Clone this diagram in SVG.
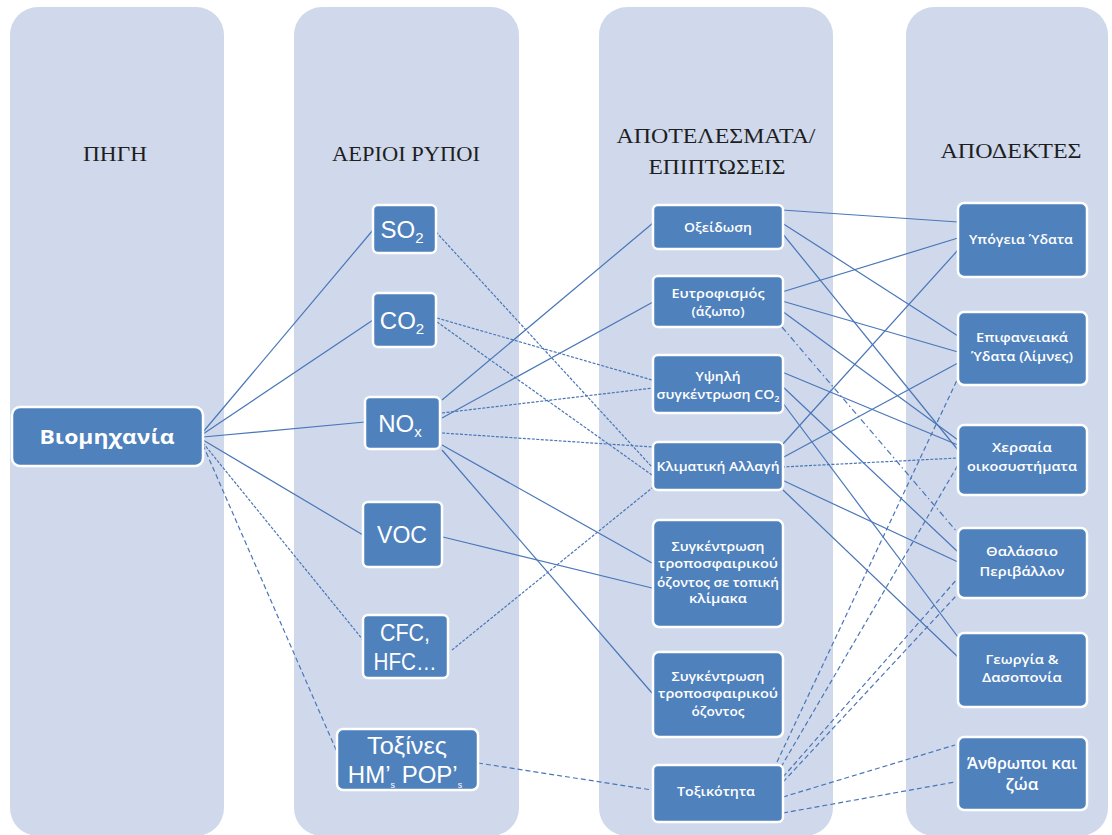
<svg xmlns="http://www.w3.org/2000/svg" width="1112" height="835" viewBox="0 0 1112 835">
<style>
.col{fill:#cfd9eb}
.node{fill:#4f81bd;stroke:#ffffff;stroke-width:2.5}
.hdr{font-family:"Liberation Serif","Times New Roman",serif;font-size:22px;fill:#1e1e1e;text-anchor:middle}
.t{font-family:"Open Sans","Noto Sans",sans-serif;fill:#ffffff;text-anchor:middle;font-weight:600;font-size:12.5px}
.big{font-family:"Liberation Sans",Arial,sans-serif;font-size:24px;font-weight:400}
.c{stroke:#4a76b8;stroke-width:1.2;fill:none}
.d1{stroke-dasharray:3 1.5}
.d2{stroke-dasharray:5 3}
.dd{stroke-dasharray:6 3 1.5 3}
</style>
<rect width="1112" height="835" fill="#ffffff"/>
<g id="columns">
<rect class="col" x="10" y="7" width="214" height="829" rx="28"/>
<rect class="col" x="294" y="7" width="225" height="829" rx="28"/>
<rect class="col" x="599" y="7" width="234" height="829" rx="28"/>
<rect class="col" x="906" y="7" width="202" height="829" rx="28"/>
</g>
<g id="headers">
<text class="hdr" x="115" y="161" textLength="64" lengthAdjust="spacingAndGlyphs">ΠΗΓΗ</text>
<text class="hdr" x="406" y="161" textLength="148" lengthAdjust="spacingAndGlyphs">ΑΕΡΙΟΙ ΡΥΠΟΙ</text>
<text class="hdr" x="716" y="143" textLength="199" lengthAdjust="spacingAndGlyphs">ΑΠΟΤΕΛΕΣΜΑΤΑ/</text>
<text class="hdr" x="717" y="174" textLength="137" lengthAdjust="spacingAndGlyphs">ΕΠΙΠΤΩΣΕΙΣ</text>
<text class="hdr" x="1011" y="158" textLength="141" lengthAdjust="spacingAndGlyphs">ΑΠΟΔΕΚΤΕΣ</text>
</g>
<g id="connectors">
<line class="c" x1="203" y1="432" x2="373" y2="230"/>
<line class="c" x1="203" y1="434" x2="373" y2="320"/>
<line class="c" x1="203" y1="437" x2="365" y2="422"/>
<line class="c" x1="203" y1="440" x2="363" y2="535"/>
<line class="c d1" x1="203" y1="443" x2="363" y2="640"/>
<line class="c d2" x1="203" y1="445" x2="337" y2="752"/>
<line class="c d1" x1="436" y1="232" x2="652" y2="467"/>
<line class="c d1" x1="437" y1="318" x2="652" y2="380"/>
<line class="c d1" x1="437" y1="322" x2="652" y2="475"/>
<line class="c" x1="442" y1="400" x2="653" y2="223"/>
<line class="c d1" x1="442" y1="413" x2="653" y2="388"/>
<line class="c" x1="442" y1="418" x2="653" y2="302"/>
<line class="c d1" x1="442" y1="433" x2="652" y2="447"/>
<line class="c" x1="442" y1="445" x2="652" y2="563"/>
<line class="c" x1="442" y1="450" x2="652" y2="693"/>
<line class="c" x1="443" y1="537" x2="652" y2="588"/>
<line class="c d1" x1="452" y1="650" x2="652" y2="488"/>
<line class="c d2" x1="478" y1="763" x2="652" y2="790"/>
<line class="c" x1="782" y1="210" x2="958" y2="222"/>
<line class="c" x1="782" y1="223" x2="958" y2="336"/>
<line class="c" x1="782" y1="233" x2="958" y2="450"/>
<line class="c" x1="782" y1="292" x2="958" y2="238"/>
<line class="c" x1="782" y1="301" x2="958" y2="352"/>
<line class="c" x1="782" y1="311" x2="958" y2="440"/>
<line class="c dd" x1="782" y1="327" x2="958" y2="533"/>
<line class="c" x1="782" y1="372" x2="958" y2="445"/>
<line class="c" x1="782" y1="386" x2="958" y2="552"/>
<line class="c" x1="782" y1="402" x2="958" y2="637"/>
<line class="c" x1="782" y1="445" x2="958" y2="250"/>
<line class="c" x1="782" y1="458" x2="958" y2="363"/>
<line class="c d1" x1="782" y1="467" x2="958" y2="458"/>
<line class="c" x1="782" y1="480" x2="958" y2="562"/>
<line class="c" x1="783" y1="490" x2="958" y2="657"/>
<line class="c d2" x1="777" y1="762" x2="958" y2="378"/>
<line class="c d2" x1="781" y1="767" x2="958" y2="465"/>
<line class="c d2" x1="783" y1="777" x2="958" y2="578"/>
<line class="c d2" x1="783" y1="782" x2="956" y2="596"/>
<line class="c d2" x1="783" y1="797" x2="955" y2="745"/>
<line class="c d2" x1="783" y1="813" x2="955" y2="782"/>
</g>
<g id="n-viomichania"><rect class="node" x="12" y="407" width="191" height="59" rx="8"/><text class="t" x="107" y="444" style="font-size:19px;font-weight:700" textLength="135" lengthAdjust="spacingAndGlyphs">Βιομηχανία</text></g>
<g id="n-so2"><rect class="node" x="373" y="205" width="63" height="48" rx="5"/><text class="t big" x="402" y="238">SO<tspan dy="5" font-size="15">2</tspan></text></g>
<g id="n-co2"><rect class="node" x="373" y="293" width="63" height="54" rx="5"/><text class="t big" x="402" y="329">CO<tspan dy="5" font-size="15">2</tspan></text></g>
<g id="n-nox"><rect class="node" x="365" y="397" width="75" height="52" rx="5"/><text class="t big" x="400" y="432">NO<tspan dy="5" font-size="15">x</tspan></text></g>
<g id="n-voc"><rect class="node" x="363" y="502" width="79" height="65" rx="5"/><text class="t big" x="402" y="543" textLength="50" lengthAdjust="spacingAndGlyphs">VOC</text></g>
<g id="n-cfc"><rect class="node" x="363" y="615" width="85" height="63" rx="5"/><text class="t big" x="405" y="641" textLength="50" lengthAdjust="spacingAndGlyphs">CFC,</text><text class="t big" x="405" y="670" textLength="63" lengthAdjust="spacingAndGlyphs">HFC…</text></g>
<g id="n-toxines"><rect class="node" x="337" y="729" width="141" height="61" rx="6"/><text class="t big" x="407" y="754" textLength="80" lengthAdjust="spacingAndGlyphs">Τοξίνες</text><text class="t big" x="405" y="783">HM’<tspan dy="5" font-size="9">s</tspan><tspan dy="-5"> POP’</tspan><tspan dy="5" font-size="9">s</tspan></text></g>
<g id="n-oxeidosi"><rect class="node" x="653" y="205" width="130" height="44" rx="5"/><text class="t" x="718" y="232" textLength="68" lengthAdjust="spacingAndGlyphs">Οξείδωση</text></g>
<g id="n-eutrofismos"><rect class="node" x="653" y="276" width="130" height="51" rx="5"/><text class="t" x="718" y="298" textLength="93" lengthAdjust="spacingAndGlyphs">Ευτροφισμός</text><text class="t" x="718" y="316" textLength="53" lengthAdjust="spacingAndGlyphs">(άζωπο)</text></g>
<g id="n-ypsili"><rect class="node" x="653" y="355" width="130" height="58" rx="5"/><text class="t" x="718" y="381" textLength="45" lengthAdjust="spacingAndGlyphs">Υψηλή</text><text class="t" x="718" y="399" textLength="123" lengthAdjust="spacingAndGlyphs">συγκέντρωση CO<tspan dy="3" font-size="8">2</tspan></text></g>
<g id="n-klimatiki"><rect class="node" x="653" y="442" width="130" height="48" rx="5"/><text class="t" x="718" y="471" textLength="123" lengthAdjust="spacingAndGlyphs">Κλιματική Αλλαγή</text></g>
<g id="n-synk-topiki"><rect class="node" x="653" y="520" width="130" height="107" rx="6"/><text class="t" x="718" y="551" textLength="93" lengthAdjust="spacingAndGlyphs">Συγκέντρωση</text><text class="t" x="718" y="568" textLength="120" lengthAdjust="spacingAndGlyphs">τροποσφαιρικού</text><text class="t" x="718" y="587" textLength="122" lengthAdjust="spacingAndGlyphs">όζοντος σε τοπική</text><text class="t" x="718" y="603" textLength="58" lengthAdjust="spacingAndGlyphs">κλίμακα</text></g>
<g id="n-synk"><rect class="node" x="653" y="652" width="130" height="85" rx="6"/><text class="t" x="718" y="681" textLength="93" lengthAdjust="spacingAndGlyphs">Συγκέντρωση</text><text class="t" x="718" y="698" textLength="120" lengthAdjust="spacingAndGlyphs">τροποσφαιρικού</text><text class="t" x="718" y="716" textLength="53" lengthAdjust="spacingAndGlyphs">όζοντος</text></g>
<g id="n-toxikotita"><rect class="node" x="653" y="765" width="130" height="57" rx="5"/><text class="t" x="716" y="796" textLength="78" lengthAdjust="spacingAndGlyphs">Τοξικότητα</text></g>
<g id="n-ypogeia"><rect class="node" x="958" y="203" width="129" height="74" rx="6"/><text class="t" x="1021" y="244" textLength="104" lengthAdjust="spacingAndGlyphs">Υπόγεια Ύδατα</text></g>
<g id="n-epifaneiaka"><rect class="node" x="958" y="312" width="129" height="73" rx="6"/><text class="t" x="1022" y="342" textLength="92" lengthAdjust="spacingAndGlyphs">Επιφανειακά</text><text class="t" x="1022" y="361" textLength="102" lengthAdjust="spacingAndGlyphs">Ύδατα (λίμνες)</text></g>
<g id="n-chersaia"><rect class="node" x="958" y="425" width="129" height="70" rx="6"/><text class="t" x="1022" y="452" textLength="60" lengthAdjust="spacingAndGlyphs">Χερσαία</text><text class="t" x="1022" y="471" textLength="110" lengthAdjust="spacingAndGlyphs">οικοσυστήματα</text></g>
<g id="n-thalassio"><rect class="node" x="958" y="528" width="129" height="70" rx="6"/><text class="t" x="1022" y="556" textLength="72" lengthAdjust="spacingAndGlyphs">Θαλάσσιο</text><text class="t" x="1022" y="576" textLength="85" lengthAdjust="spacingAndGlyphs">Περιβάλλον</text></g>
<g id="n-georgia"><rect class="node" x="958" y="633" width="129" height="74" rx="6"/><text class="t" x="1022" y="664" textLength="73" lengthAdjust="spacingAndGlyphs">Γεωργία &amp;</text><text class="t" x="1022" y="682" textLength="80" lengthAdjust="spacingAndGlyphs">Δασοπονία</text></g>
<g id="n-anthropoi"><rect class="node" x="958" y="737" width="129" height="73" rx="6"/><text class="t" x="1022" y="769" style="font-size:16px" textLength="110" lengthAdjust="spacingAndGlyphs">Άνθρωποι και</text><text class="t" x="1022" y="790" style="font-size:16px" textLength="33" lengthAdjust="spacingAndGlyphs">ζώα</text></g>
</svg>
